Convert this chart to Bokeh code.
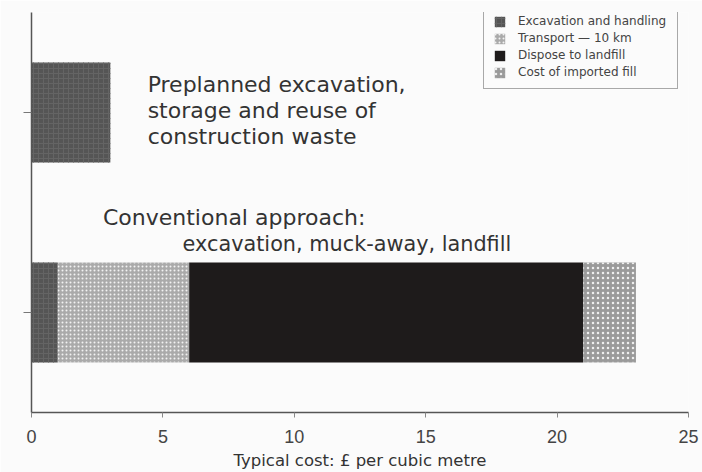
from bokeh.plotting import figure
from bokeh.models import (ColumnDataSource, Legend, LegendItem, Label, FactorRange,
                          Range1d, CustomLabelingPolicy)
from bokeh.embed import file_html
from bokeh.resources import INLINE

# Cost breakdown (GBP per cubic metre) for two ways of handling excavated material
approaches = ["Conventional", "Preplanned"]
components = ["Excavation and handling", "Transport \u2014 10 km",
              "Dispose to landfill", "Cost of imported fill"]
excavation = [1, 3]
transport = [5, 0]
landfill = [15, 0]
imported_fill = [2, 0]

x_ticks = [0, 5, 10, 15, 20, 25]

source = ColumnDataSource(dict(
    approach=approaches,
    excavation=excavation,
    transport=transport,
    landfill=landfill,
    imported_fill=imported_fill,
))

BG = "#fbfbfb"
INK = "#333333"
FONT = "DejaVu Sans"

p = figure(
    width=702, height=472,
    y_range=FactorRange(factors=approaches, range_padding=0),
    x_range=Range1d(0, 25),
    output_backend="svg", toolbar_location=None,
    min_border_left=31, min_border_right=14,
    min_border_top=12, min_border_bottom=60,
    background_fill_color=BG, border_fill_color=BG,
)
p.outline_line_color = None
p.grid.visible = False

stackers = ["excavation", "transport", "landfill", "imported_fill"]
fills = ["#555555", "#aaaaaa", "#1e1b1b", "#9a9a9a"]
hatches = ["cross", "dot", " ", "dot"]
hatch_colors = ["#646464", "#f2f2f2", "#1e1b1b", "#eeeeee"]
hatch_scales = [5, 4, 12, 5]

renderers = p.hbar_stack(
    stackers, y="approach", height=0.5, source=source,
    fill_color=fills, line_color=None,
    hatch_pattern=hatches, hatch_color=hatch_colors,
    hatch_scale=hatch_scales, hatch_weight=1,
)

legend = Legend(
    items=[LegendItem(label=lbl, renderers=[r]) for lbl, r in zip(components, renderers)],
    location=(452, 323),
    background_fill_color=BG, background_fill_alpha=1,
    border_line_color="#555555", border_line_width=1,
    label_text_font=FONT, label_text_font_size="12px", label_text_color="#444444",
    glyph_width=13, glyph_height=13, label_height=13, label_width=150,
    label_standoff=12, spacing=3, padding=9, margin=0,
)
p.add_layout(legend, "center")

# Annotations beside the bars
label_style = dict(text_font=FONT, text_color=INK,
                   text_baseline="alphabetic", text_align="left")
for txt, x, y, size in [
    ("Preplanned excavation,", 4.42, 1.64, "22px"),
    ("storage and reuse of", 4.42, 1.51, "22px"),
    ("construction waste", 4.42, 1.38, "22px"),
    ("Conventional approach:", 2.72, 0.975, "22px"),
    ("excavation, muck-away, landfill", 5.75, 0.845, "20.8px"),
]:
    p.add_layout(Label(x=x, y=y, text=txt, text_font_size=size, **label_style))

# Axes
p.xaxis.ticker = x_ticks
p.xaxis.axis_label = "Typical cost: \u00a3 per cubic metre"
p.xaxis.axis_label_text_font = FONT
p.xaxis.axis_label_text_font_style = "normal"
p.xaxis.axis_label_text_font_size = "16.5px"
p.xaxis.axis_label_text_color = INK
p.xaxis.axis_label_text_line_height = 1.0
p.xaxis.axis_label_standoff = 5
p.xaxis.major_label_text_font = "Liberation Sans"
p.xaxis.major_label_text_font_size = "18px"
p.xaxis.major_label_text_color = "#444444"
p.xaxis.major_label_text_line_height = 1.0
p.xaxis.major_label_standoff = 12
p.xaxis.major_tick_out = 5
p.xaxis.major_tick_in = 0
p.xaxis.minor_tick_line_color = None
p.xaxis.axis_line_color = "#555555"
p.xaxis.axis_line_width = 1.5
p.xaxis.major_tick_line_color = "#888888"

# The category axis carries tick marks only
p.yaxis.major_label_policy = CustomLabelingPolicy(
    code="for (const i of indices) indices.unset(i)")
p.yaxis.major_label_text_font_size = "0px"
p.yaxis.major_label_standoff = 0
p.yaxis.major_tick_out = 8
p.yaxis.major_tick_in = 0
p.yaxis.axis_line_color = "#555555"
p.yaxis.axis_line_width = 1.5
p.yaxis.major_tick_line_color = "#777777"

open("out.html", "w").write(file_html(p, INLINE))
